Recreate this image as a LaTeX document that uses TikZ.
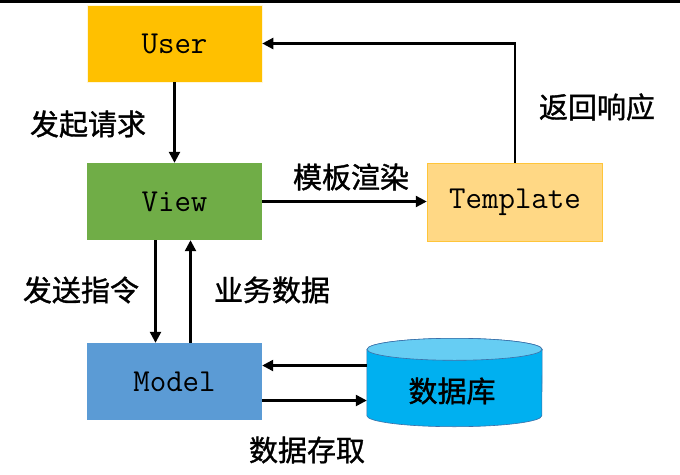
\documentclass[tikz,border=0pt]{standalone}
\usepackage{fontspec}
\newfontfamily\cjk[FakeBold=1.2]{Noto Sans CJK SC}
\usetikzlibrary{arrows.meta}

\definecolor{userclr}{HTML}{FFC000}
\definecolor{viewclr}{HTML}{70AD47}
\definecolor{modelclr}{HTML}{5B9BD5}
\definecolor{tplclr}{HTML}{FFD885}
\definecolor{tplline}{HTML}{FFC53A}
\definecolor{dbclr}{HTML}{00B0F0}
\definecolor{dbtop}{HTML}{66CDF3}
\definecolor{dbline}{HTML}{3C6FA8}

\begin{document}
\begin{tikzpicture}[x=1pt,y=-1pt,
		box/.style={minimum width=175pt,minimum height=77pt,inner sep=0pt,
			font=\fontsize{32}{34}\selectfont\ttfamily},
		lbl/.style={font=\cjk\fontsize{29}{32}\selectfont,inner sep=0pt},
		arr/.style={line width=2.4pt,-{Triangle[length=11pt,width=11pt]}}]
		\useasboundingbox (0,0) rectangle (680,474);
		\draw[line width=3pt] (0,1) -- (680,1);
		% boxes
		\node[box,fill=userclr,draw=white!85!userclr,line width=0.6pt] (user) at (174.5,43.5) {User};
		\node[box,fill=viewclr] (view) at (174.5,201.5) {View};
		\node[box,fill=modelclr] (model) at (174.5,381.5) {Model};
		\node[box,fill=tplclr,draw=tplline,line width=1.5pt,minimum width=175pt,minimum height=78pt] (tpl) at (515,202.5) {Template};
		% database
		\path node[minimum width=175pt,minimum height=88pt,inner sep=0pt] (db) at (454.5,382.5) {};
		\filldraw[fill=dbclr,draw=dbline,line width=0.6pt] ([yshift=-11pt]db.north west) -- ([yshift=11pt]db.south west)
			arc[start angle=180,end angle=360,x radius=87.5pt,y radius=11pt]
			-- ([yshift=-11pt]db.north east)
			arc[start angle=0,end angle=180,x radius=87.5pt,y radius=11pt] -- cycle;
		\filldraw[fill=dbtop,draw=dbline,line width=0.6pt] ([yshift=-11pt]db.north) ellipse[x radius=87.5pt,y radius=11pt];
		\node[lbl] (dbtext) at (452,391) {数据库};
		% connectors
		\draw[arr] (user.south) -- (view.north);
		\draw[arr] (view.east) -- (view.east -| tpl.west);
		\draw[arr] (tpl.north) |- (user.east);
		\draw[arr] ([xshift=-19pt]view.south) -- ([xshift=-19pt]view.south |- model.north);
		\draw[arr] ([xshift=16pt]model.north) -- ([xshift=16pt]model.north |- view.south);
		\draw[arr] ([yshift=17pt]db.west) -- ([yshift=17pt]db.west -| model.east);
		\draw[arr] ([yshift=-19pt]model.east) -- ([yshift=-19pt]model.east -| db.west);
		% labels
		\node[lbl] (ask) at (88,124) {发起请求};
		\node[lbl] (render) at (351,177) {模板渲染};
		\node[lbl] (reply) at (597,107) {返回响应};
		\node[lbl] (cmd) at (81,290) {发送指令};
		\node[lbl] (data) at (272,290) {业务数据};
		\node[lbl] (access) at (307,450) {数据存取};
	\end{tikzpicture}
\end{document}
